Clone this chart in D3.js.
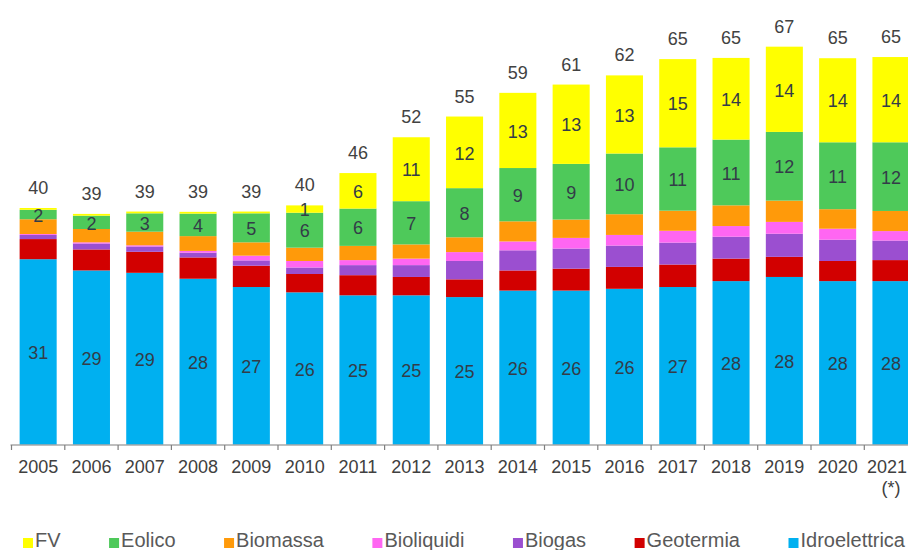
<!DOCTYPE html>
<html>

<head>
  <meta charset="utf8">
  <script src="https://d3js.org/d3.v7.min.js"></script>
  <style>
    body {
      margin: 0;
      background: #fff;
    }

    text {
      font-family: "Liberation Sans", Arial, sans-serif;
    }

    .value {
      font-size: 18px;
      fill: #333c48;
    }

    .total {
      font-size: 18px;
      fill: #424242;
    }

    .axis text {
      font-size: 18px;
      fill: #404040;
    }

    .legend text {
      font-size: 20px;
      fill: #595959;
    }
  </style>
</head>

<body>
  <svg id="chart" width="908" height="550"></svg>

  <script>
    var years = ['2005', '2006', '2007', '2008', '2009', '2010', '2011', '2012', '2013',
      '2014', '2015', '2016', '2017', '2018', '2019', '2020', '2021'];
    var yearNotes = { '2021': '(*)' };

    // values (stack order bottom -> top)
    var idroelettrica = [31.3, 29.4, 29.0, 28.0, 26.6, 25.7, 25.2, 25.2, 24.9, 26.0, 26.0, 26.3, 26.6, 27.6, 28.3, 27.6, 27.6];
    var geotermia = [3.4, 3.55, 3.55, 3.6, 3.6, 3.1, 3.4, 3.1, 3.0, 3.4, 3.7, 3.7, 3.8, 3.8, 3.4, 3.4, 3.55];
    var biogas = [0.7, 1.0, 0.9, 0.8, 0.9, 1.1, 1.7, 2.0, 3.1, 3.4, 3.4, 3.6, 3.7, 3.7, 3.9, 3.6, 3.3];
    var bioliquidi = [0.15, 0.2, 0.2, 0.3, 0.8, 1.1, 0.85, 1.1, 1.5, 1.5, 1.8, 1.8, 2.0, 1.8, 2.0, 1.85, 1.6];
    var biomassa = [2.5, 2.25, 2.3, 2.5, 2.25, 2.25, 2.4, 2.4, 2.5, 3.4, 3.1, 3.5, 3.4, 3.5, 3.6, 3.3, 3.4];
    var eolico = [1.6, 2.25, 3.1, 3.8, 4.9, 5.9, 6.3, 7.3, 8.3, 9.0, 9.4, 10.25, 10.7, 11.1, 11.6, 11.3, 11.6];
    var fv = [0.3, 0.3, 0.3, 0.3, 0.3, 1.24, 6.0, 10.8, 12.1, 12.7, 13.4, 13.2, 14.9, 13.8, 14.4, 14.2, 14.4];

    var keys = ['Idroelettrica', 'Geotermia', 'Biogas', 'Bioliquidi', 'Biomassa', 'Eolico', 'FV'];
    var colors = ['#00b0f0', '#d20000', '#9b4fd0', '#ff66f2', '#ff9a0a', '#4ec95a', '#ffff00'];
    var labelled = ['Idroelettrica', 'Eolico', 'FV'];

    var rows = years.map(function (yr, i) {
      return {
        year: yr,
        Idroelettrica: idroelettrica[i],
        Geotermia: geotermia[i],
        Biogas: biogas[i],
        Bioliquidi: bioliquidi[i],
        Biomassa: biomassa[i],
        Eolico: eolico[i],
        FV: fv[i]
      };
    });
    rows.forEach(function (r) {
      r.total = d3.sum(keys, function (k) { return r[k]; });
    });

    var chart = d3.select('#chart');
    var W = +chart.attr('width');
    var baseY = 444.5;
    var step = 53.3;
    var x0 = 11.5;

    var x = d3.scaleBand()
      .domain(years)
      .range([x0, x0 + step * years.length])
      .paddingInner(0.305)
      .paddingOuter(0.1525);

    var y = d3.scaleLinear()
      .domain([0, 70])
      .range([baseY, baseY - 70 * 5.92]);

    var color = d3.scaleOrdinal().domain(keys).range(colors);

    var stacked = d3.stack().keys(keys)(rows);

    // bars
    chart.append('g')
      .selectAll('g')
      .data(stacked)
      .enter()
      .append('g')
      .attr('fill', function (s) { return color(s.key); })
      .selectAll('rect')
      .data(function (s) { return s; })
      .enter()
      .append('rect')
      .attr('x', function (d) { return x(d.data.year); })
      .attr('y', function (d) { return y(d[1]); })
      .attr('width', x.bandwidth())
      .attr('height', function (d) { return y(d[0]) - y(d[1]); });

    // values inside the bars
    stacked.filter(function (s) { return labelled.indexOf(s.key) >= 0; }).forEach(function (s) {
      chart.append('g')
        .selectAll('text')
        .data(s.filter(function (d) { return Math.round(d[1] - d[0]) >= 1; }))
        .enter()
        .append('text')
        .attr('class', 'value')
        .attr('text-anchor', 'middle')
        .attr('x', function (d) { return x(d.data.year) + x.bandwidth() / 2; })
        .attr('y', function (d) { return (y(d[0]) + y(d[1])) / 2; })
        .attr('dy', '0.4em')
        .text(function (d) { return Math.round(d[1] - d[0]); });
    });

    // totals
    chart.append('g')
      .selectAll('text')
      .data(rows)
      .enter()
      .append('text')
      .attr('class', 'total')
      .attr('text-anchor', 'middle')
      .attr('x', function (d) { return x(d.year) + x.bandwidth() / 2; })
      .attr('y', function (d) { return y(d.total) - 14; })
      .text(function (d) { return Math.round(d.total); });

    // x axis
    var axis = chart.append('g')
      .attr('class', 'axis')
      .attr('transform', 'translate(0,' + (baseY + 0.5) + ')');

    axis.call(d3.axisBottom(x).tickSizeInner(0).tickSizeOuter(0).tickPadding(15));
    axis.select('.domain').remove();

    // keep the last year label inside the picture
    axis.selectAll('.tick text').each(function () {
      var tick = d3.select(this.parentNode);
      var tx = +tick.attr('transform').match(/translate\(([^,]+)/)[1];
      var half = this.getComputedTextLength() / 2;
      if (tx + half > W - 1) {
        d3.select(this).attr('x', W - 1 - half - tx);
      }
    });

    axis.append('line')
      .attr('x1', x0 - 1)
      .attr('x2', W)
      .attr('stroke', '#7f7f7f')
      .attr('stroke-width', 1.2);

    axis.selectAll('.bound')
      .data(years)
      .enter()
      .append('line')
      .attr('class', 'bound')
      .attr('x1', function (d) { return x(d) - x.step() * x.paddingInner() / 2; })
      .attr('x2', function (d) { return x(d) - x.step() * x.paddingInner() / 2; })
      .attr('y1', 0)
      .attr('y2', 5)
      .attr('stroke', '#7f7f7f')
      .attr('stroke-width', 1.2);

    axis.selectAll('.note')
      .data(Object.keys(yearNotes))
      .enter()
      .append('text')
      .attr('class', 'note')
      .attr('text-anchor', 'middle')
      .attr('x', function (d) { return x(d) + x.bandwidth() / 2; })
      .attr('y', 49)
      .text(function (d) { return yearNotes[d]; });

    // legend (top of stack first), spread so the last item ends near the right edge
    var legendLeft = 23;
    var legendRight = W - 3;
    var legend = chart.append('g')
      .attr('class', 'legend')
      .attr('transform', 'translate(' + legendLeft + ', 547)');

    var items = keys.slice().reverse().map(function (k) {
      var item = legend.append('g');
      item.append('rect')
        .attr('x', 0)
        .attr('y', -9)
        .attr('width', 10)
        .attr('height', 10)
        .attr('fill', color(k));
      var t = item.append('text')
        .attr('x', 12)
        .attr('y', 0)
        .text(k);
      return { g: item, w: 12 + t.node().getComputedTextLength() };
    });
    var used = d3.sum(items, function (d) { return d.w; });
    var gap = (legendRight - legendLeft - used) / (items.length - 1);
    var lx = 0;
    items.forEach(function (d) {
      d.g.attr('transform', 'translate(' + lx + ',0)');
      lx += d.w + gap;
    });
  </script>
</body>

</html>
